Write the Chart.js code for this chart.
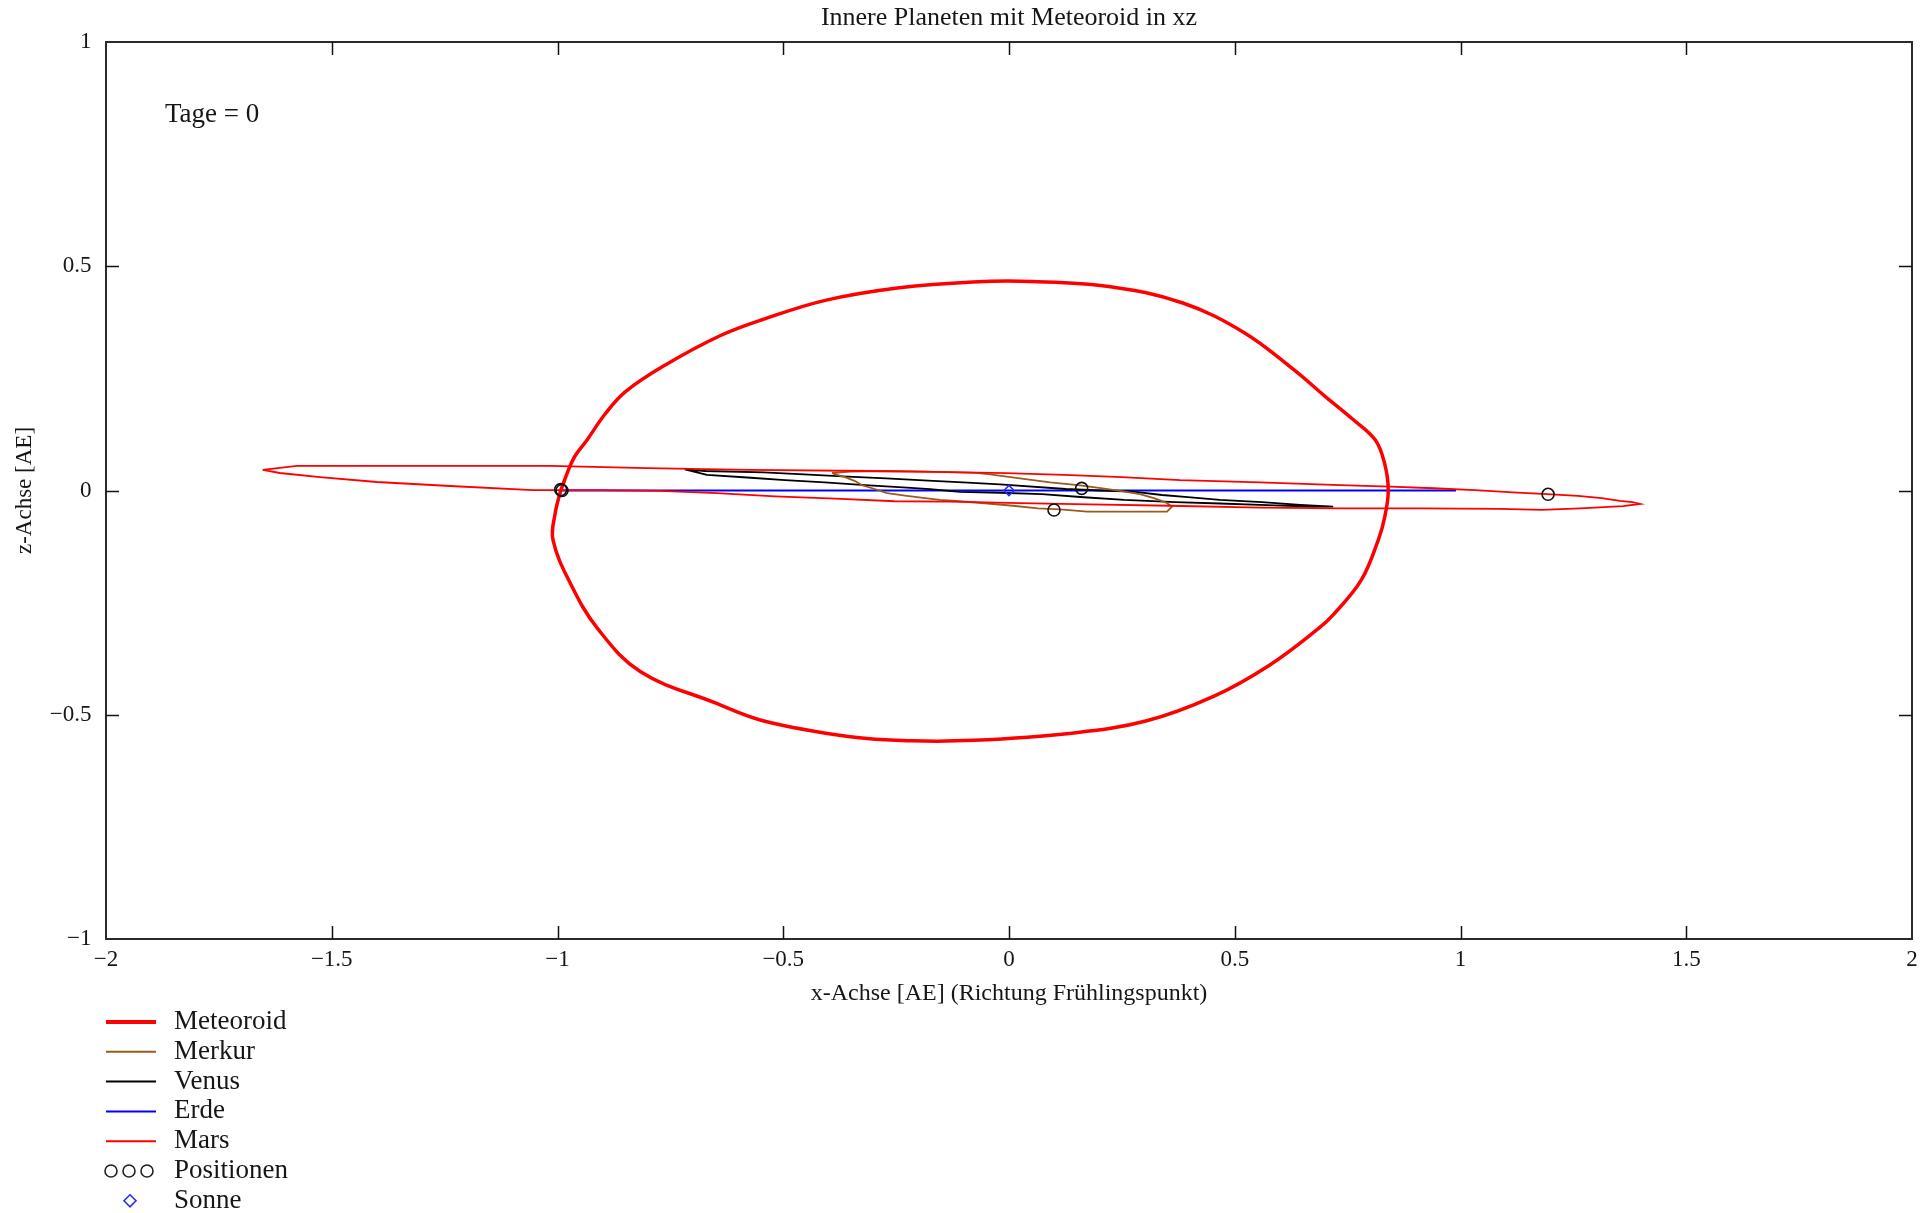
<!DOCTYPE html>
<html><head><meta charset="utf-8">
<script src="https://cdn.jsdelivr.net/npm/chart.js@4.4.1/dist/chart.umd.min.js"></script>
<style>html,body{margin:0;padding:0;background:#fff}canvas{display:block}</style>
</head><body>
<canvas id="c" width="1932" height="1213"></canvas>
<script>
const chartTitle = 'Innere Planeten mit Meteoroid in xz';
const xAxisTitle = 'x-Achse [AE] (Richtung Frühlingspunkt)';
const yAxisTitle = 'z-Achse [AE]';
const dayLabel = 'Tage = 0';
const seriesNames = ['Meteoroid','Merkur','Venus','Erde','Mars','Positionen','Sonne'];
const xTicks = [-2,-1.5,-1,-0.5,0,0.5,1,1.5,2];
const yTicks = [-1,-0.5,0,0.5,1];

const meteoroidX = [-0.993,-0.965,-0.935,-0.895,-0.850,-0.761,-0.640,-0.543,-0.407,-0.243,-0.080,0.050,0.221,0.385,0.521,0.630,0.700,0.760,0.811,0.832,0.840,0.832,0.818,0.780,0.720,0.685,0.576,0.453,0.303,0.139,-0.079,-0.216,-0.352,-0.543,-0.652,-0.816,-0.911,-0.970,-1.010,-1.005,-0.993];
const meteoroidZ = [0.000,0.070,0.112,0.170,0.220,0.280,0.345,0.382,0.424,0.452,0.465,0.466,0.455,0.418,0.352,0.270,0.210,0.160,0.113,0.060,0.000,-0.060,-0.110,-0.200,-0.275,-0.308,-0.390,-0.459,-0.514,-0.541,-0.557,-0.558,-0.549,-0.514,-0.473,-0.404,-0.308,-0.210,-0.110,-0.050,0.000];

const merkurX = [-0.392,-0.352,-0.279,-0.180,-0.073,-0.042,0.024,0.091,0.153,0.199,0.246,0.290,0.321,0.348,0.361,0.350,0.261,0.173,0.113,0.064,0.009,-0.047,-0.109,-0.153,-0.186,-0.226,-0.270,-0.303,-0.326,-0.341,-0.363,-0.385,-0.392];
const merkurZ = [0.039,0.042,0.0435,0.042,0.0395,0.036,0.027,0.018,0.012,0.006,-0.001,-0.008,-0.017,-0.027,-0.036,-0.047,-0.047,-0.047,-0.042,-0.040,-0.034,-0.029,-0.024,-0.021,-0.017,-0.012,-0.006,0.005,0.012,0.021,0.030,0.036,0.039];

const venusX = [-0.718,-0.673,-0.543,-0.454,-0.357,-0.272,-0.179,-0.091,-0.020,0.126,0.202,0.275,0.339,0.396,0.467,0.560,0.645,0.718,0.667,0.556,0.467,0.368,0.255,0.166,0.073,-0.020,-0.109,-0.175,-0.235,-0.319,-0.408,-0.496,-0.580,-0.669,-0.718];
const venusZ = [0.047,0.0435,0.0406,0.0361,0.0308,0.0272,0.0218,0.0174,0.0138,0.0033,0.000,-0.0027,-0.010,-0.015,-0.021,-0.026,-0.032,-0.036,-0.036,-0.032,-0.029,-0.026,-0.021,-0.015,-0.008,-0.005,-0.003,0.003,0.007,0.012,0.018,0.023,0.029,0.035,0.047];

const erdeX = [-0.995,0.990,-0.995];
const erdeZ = [0.000,0.000,0.000];

const marsX = [-1.653,-1.577,-1.349,-1.017,-0.802,-0.574,-0.308,-0.131,-0.007,0.122,0.250,0.379,0.556,0.733,0.844,0.941,1.032,1.116,1.191,1.260,1.313,1.353,1.381,1.398,1.360,1.265,1.180,1.088,0.910,0.733,0.556,0.357,0.179,0.024,-0.131,-0.253,-0.385,-0.518,-0.647,-0.773,-0.906,-1.054,-1.238,-1.400,-1.526,-1.615,-1.653];
const marsZ = [0.046,0.055,0.055,0.055,0.050,0.046,0.0435,0.041,0.0386,0.035,0.030,0.023,0.018,0.012,0.0085,0.005,0.001,-0.004,-0.008,-0.012,-0.017,-0.023,-0.026,-0.030,-0.035,-0.040,-0.043,-0.041,-0.040,-0.040,-0.038,-0.034,-0.031,-0.028,-0.025,-0.024,-0.018,-0.013,-0.006,-0.001,0.001,0.001,0.010,0.019,0.030,0.039,0.046];

const posX = [-0.993,-0.990,0.0997,0.161,1.194];
const posZ = [0.002,0.000,-0.0435,0.0048,-0.0085];

const sunX = [0];
const sunZ = [0];

const serif = "'Liberation Serif','Times New Roman',serif";
const textColor = '#161616';
const fmt = v => String(v).replace('-', '\u2212');
const mk = (xs, zs) => xs.map((v, i) => ({x: v, y: zs[i]}));

const decor = {
  id: 'decor',
  afterDatasetsDraw(chart) {
    const {ctx, chartArea: a, scales: {x, y}} = chart;
    ctx.save();
    ctx.strokeStyle = '#2a2a2a';
    ctx.lineWidth = 2;
    ctx.strokeRect(a.left, a.top, a.right - a.left, a.bottom - a.top);
    const tl = 13;
    ctx.lineWidth = 1.5;
    ctx.strokeStyle = '#111';
    ctx.beginPath();
    x.ticks.forEach(t => {
      if (t.value <= x.min || t.value >= x.max) return;
      const p = Math.round(x.getPixelForValue(t.value)) + 0.5;
      ctx.moveTo(p, a.top); ctx.lineTo(p, a.top + tl);
      ctx.moveTo(p, a.bottom); ctx.lineTo(p, a.bottom - tl);
    });
    y.ticks.forEach(t => {
      if (t.value <= y.min || t.value >= y.max) return;
      const p = Math.round(y.getPixelForValue(t.value)) + 0.5;
      ctx.moveTo(a.left, p); ctx.lineTo(a.left + tl, p);
      ctx.moveTo(a.right, p); ctx.lineTo(a.right - tl, p);
    });
    ctx.stroke();
    ctx.font = '27px ' + serif;
    ctx.fillStyle = textColor;
    ctx.textAlign = 'left';
    ctx.textBaseline = 'middle';
    ctx.fillText(dayLabel, a.left + 59, a.top + 73);
    ctx.restore();
  },
  afterDraw(chart) {
    const {ctx, chartArea: a} = chart;
    const ds = chart.data.datasets;
    ctx.save();
    ctx.font = '27px ' + serif;
    ctx.fillStyle = textColor;
    ctx.textAlign = 'left';
    ctx.textBaseline = 'middle';
    const x0 = a.left, x1 = a.left + 50, tx = a.left + 68;
    const y0 = a.bottom + 83, step = 29.8;
    seriesNames.forEach((name, i) => {
      const d = ds[i];
      const yy = y0 + i * step;
      if (d.showLine) {
        ctx.strokeStyle = d.borderColor;
        ctx.lineWidth = i === 0 ? 4 : 2;
        ctx.beginPath(); ctx.moveTo(x0, yy); ctx.lineTo(x1, yy); ctx.stroke();
      } else if (d.pointStyle === 'circle') {
        ctx.strokeStyle = '#222'; ctx.lineWidth = 1.6;
        [x0 + 5, x0 + 23, x0 + 41].forEach(cx => { ctx.beginPath(); ctx.arc(cx, yy, 6, 0, Math.PI * 2); ctx.stroke(); });
      } else {
        ctx.strokeStyle = d.borderColor; ctx.lineWidth = 1.6;
        const cx = x0 + 24, r = 6;
        ctx.beginPath(); ctx.moveTo(cx, yy - r); ctx.lineTo(cx + r, yy); ctx.lineTo(cx, yy + r); ctx.lineTo(cx - r, yy); ctx.closePath(); ctx.stroke();
      }
      ctx.fillText(name, tx, yy);
    });
    ctx.restore();
  }
};

const lineDs = (label, xs, zs, color, width, order, tension) => ({
  label, data: mk(xs, zs), showLine: true, borderColor: color, backgroundColor: color,
  borderWidth: width, pointRadius: 0, pointHoverRadius: 0, tension: tension || 0, order, fill: false
});

new Chart(document.getElementById('c'), {
  type: 'scatter',
  data: {
    datasets: [
      lineDs(seriesNames[0], meteoroidX, meteoroidZ, '#ff0000', 3.5, 2, 0.38),
      lineDs(seriesNames[1], merkurX, merkurZ, '#9a5b1f', 1.8, 5),
      lineDs(seriesNames[2], venusX, venusZ, '#000000', 1.8, 6),
      lineDs(seriesNames[3], erdeX, erdeZ, '#0000ff', 1.8, 7),
      lineDs(seriesNames[4], marsX, marsZ, '#ff0000', 1.8, 3),
      {label: seriesNames[5], data: mk(posX, posZ), showLine: false, pointStyle: 'circle', pointRadius: 6,
       borderColor: '#111', backgroundColor: 'rgba(0,0,0,0)', pointBorderWidth: 1.6, order: 0},
      {label: seriesNames[6], data: mk(sunX, sunZ), showLine: false, pointStyle: 'rectRot', pointRadius: 5,
       borderColor: '#2a2aff', backgroundColor: 'rgba(0,0,0,0)', pointBorderWidth: 1.6, order: 1}
    ]
  },
  options: {
    responsive: false,
    animation: false,
    events: [],
    layout: {padding: {top: 0, right: 20, bottom: 194, left: 0}},
    plugins: {
      legend: {display: false},
      tooltip: {enabled: false},
      title: {display: true, fullSize: false, text: chartTitle, color: textColor,
              font: {family: serif, size: 26, weight: 'normal'}, padding: {top: 3, bottom: 7.8}}
    },
    scales: {
      x: {
        type: 'linear', min: -2, max: 2,
        afterBuildTicks: s => { s.ticks = xTicks.map(v => ({value: v})); },
        afterFit: s => { s.height = 80; },
        grid: {display: false, drawTicks: false},
        border: {display: false},
        ticks: {callback: v => fmt(v), color: textColor, font: {family: serif, size: 23}, padding: 7, maxRotation: 0, autoSkip: false},
        title: {display: true, text: xAxisTitle, color: textColor, font: {family: serif, size: 24}, padding: {top: 0, bottom: 11}}
      },
      y: {
        type: 'linear', min: -1, max: 1,
        afterBuildTicks: s => { s.ticks = yTicks.map(v => ({value: v})); },
        afterFit: s => { s.width = 106; },
        grid: {display: false, drawTicks: false},
        border: {display: false},
        ticks: {callback: v => fmt(v), color: textColor, font: {family: serif, size: 23}, padding: 14.5, autoSkip: false},
        title: {display: true, text: yAxisTitle, color: textColor, font: {family: serif, size: 23}, padding: {top: 11, bottom: 0}}
      }
    }
  },
  plugins: [decor]
});
</script>
</body></html>
